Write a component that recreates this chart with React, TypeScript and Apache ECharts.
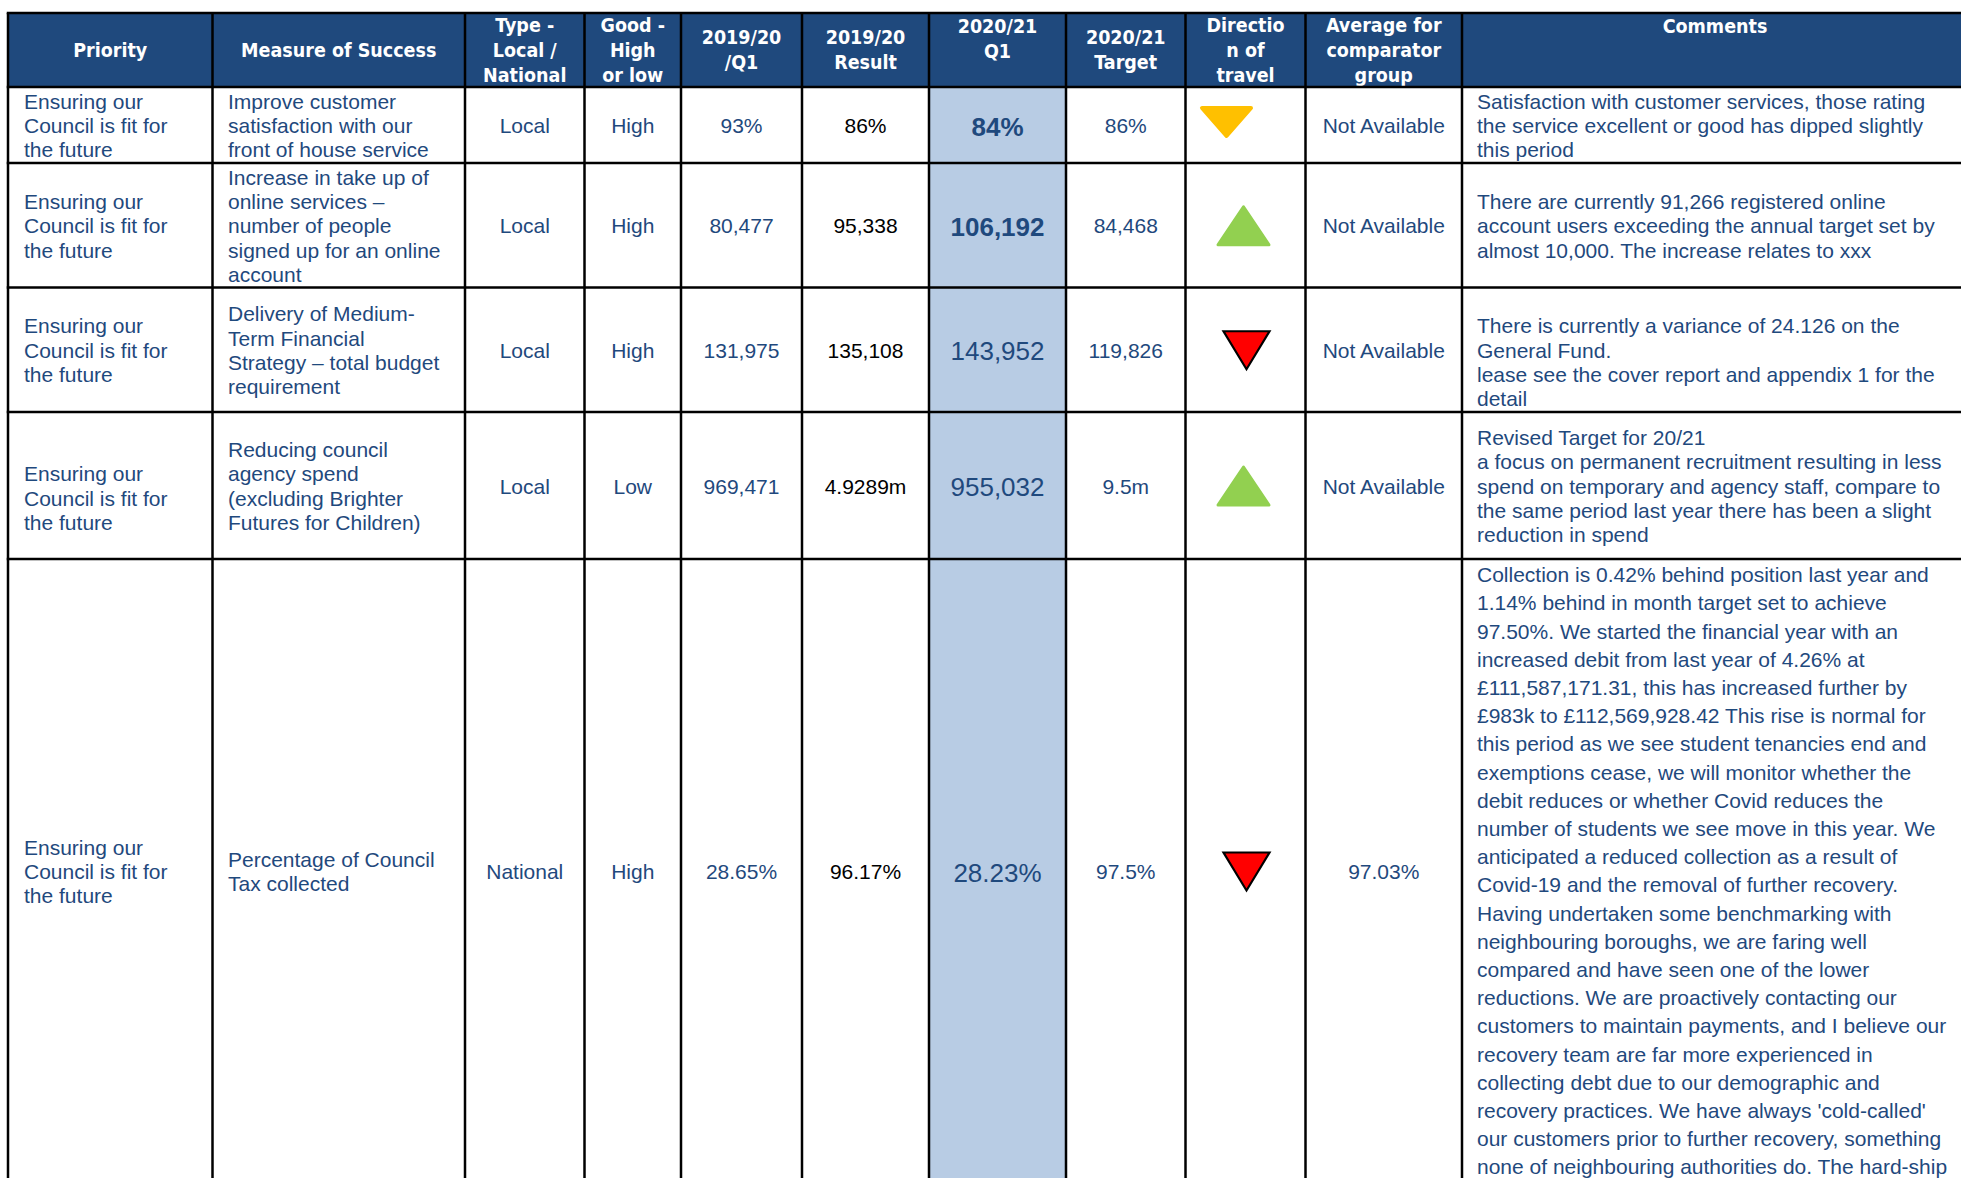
import React, { useEffect, useRef } from "react";
import * as echarts from "echarts";

// ---------------- DATA ----------------
const headers: string[][] = [
  ["Priority"],
  ["Measure of Success"],
  ["Type -", "Local /", "National"],
  ["Good -", "High", "or low"],
  ["2019/20", "/Q1"],
  ["2019/20", "Result"],
  ["2020/21", "Q1"],
  ["2020/21", "Target"],
  ["Directio", "n of", "travel"],
  ["Average for", "comparator", "group"],
  ["Comments"],
];

const priorities: string[][] = [
  ["Ensuring our", "Council is fit for", "the future"],
  ["Ensuring our", "Council is fit for", "the future"],
  ["Ensuring our", "Council is fit for", "the future"],
  ["", "Ensuring our", "Council is fit for", "the future"],
  ["Ensuring our", "Council is fit for", "the future"],
];

const measures: string[][] = [
  ["Improve customer", "satisfaction with our", "front of house service"],
  ["Increase in take up of", "online services –", "number of people", "signed up for an online", "account"],
  ["Delivery of Medium-", "Term Financial", "Strategy – total budget", "requirement"],
  ["Reducing council", "agency spend", "(excluding Brighter", "Futures for Children)"],
  ["Percentage of Council", "Tax collected"],
];

const types = ["Local", "Local", "Local", "Local", "National"];
const goodHighLow = ["High", "High", "High", "Low", "High"];
const q1_2019 = ["93%", "80,477", "131,975", "969,471", "28.65%"];
const result_2019 = ["86%", "95,338", "135,108", "4.9289m", "96.17%"];
const q1_2020 = ["84%", "106,192", "143,952", "955,032", "28.23%"];
const target_2021 = ["86%", "84,468", "119,826", "9.5m", "97.5%"];
const directions = ["down-amber", "up-green", "down-red", "up-green", "down-red"];
const comparator = ["Not Available", "Not Available", "Not Available", "Not Available", "97.03%"];

const comments: string[][] = [
  ["Satisfaction with customer services, those rating", "the service excellent or good has dipped slightly", "this period"],
  ["There are currently 91,266 registered online", "account users exceeding the annual target set by", "almost 10,000. The increase relates to xxx"],
  ["", "There is currently a variance of 24.126 on the", "General Fund.", "lease see the cover report and appendix 1 for the", "detail"],
  ["Revised Target for 20/21", "a focus on permanent recruitment resulting in less", "spend on temporary and agency staff, compare to", "the same period last year there has been a slight", "reduction in spend"],
  [
    "Collection is 0.42% behind position last year and",
    "1.14% behind in month target set to achieve",
    "97.50%. We started the financial year with an",
    "increased debit from last year of 4.26% at",
    "£111,587,171.31, this has increased further by",
    "£983k to £112,569,928.42 This rise is normal for",
    "this period as we see student tenancies end and",
    "exemptions cease, we will monitor whether the",
    "debit reduces or whether Covid reduces the",
    "number of students we see move in this year. We",
    "anticipated a reduced collection as a result of",
    "Covid-19 and the removal of further recovery.",
    "Having undertaken some benchmarking with",
    "neighbouring boroughs, we are faring well",
    "compared and have seen one of the lower",
    "reductions. We are proactively contacting our",
    "customers to maintain payments, and I believe our",
    "recovery team are far more experienced in",
    "collecting debt due to our demographic and",
    "recovery practices. We have always 'cold-called'",
    "our customers prior to further recovery, something",
    "none of neighbouring authorities do. The hard-ship",
  ],
];

// ---------------- LAYOUT / STYLE ----------------
const COL_X = [8, 212.5, 465, 584.5, 681, 802, 929, 1066, 1185.5, 1305.5, 1462, 1968];
const ROW_Y = [13, 87, 163, 287.5, 412, 559, 1183];
const HEADER_TOP_ALIGNED = [false, false, false, false, false, false, true, false, false, false, true];
const BLUE = "#1F497D";
const HEADER_BG = "#1F497D";
const Q1_BG = "#B8CCE4";
const BODY_FONT = '"Liberation Sans", Arial, sans-serif';
const HEAD_FONT = '"DejaVu Sans Condensed", "DejaVu Sans", sans-serif';
const LINE_W = 2.5;

function txt(text: string, x: number, y: number, opts: any) {
  const align = opts.align || "center";
  const valign = opts.valign || "middle";
  return {
    type: "text",
    silent: true,
    z: 10,
    style: {
      text,
      x,
      y,
      fill: opts.fill || BLUE,
      fontSize: opts.fontSize || 21,
      fontFamily: opts.fontFamily || BODY_FONT,
      fontWeight: opts.fontWeight || "normal",
      lineHeight: opts.lineHeight || 24.3,
      align,
      verticalAlign: valign,
      textAlign: align,
      textVerticalAlign: valign,
    },
  };
}

function triangle(kind: string, cx: number, cy: number) {
  if (kind === "down-amber") {
    const w = 49, h = 28, x = cx - 19, top = 108;
    return {
      type: "polygon", z: 10, silent: true,
      shape: { points: [[x - w / 2, top], [x + w / 2, top], [x, top + h]] },
      style: { fill: "#FFC000", stroke: "#FFC000", lineWidth: 4, lineJoin: "round" },
    };
  }
  if (kind === "up-green") {
    const w = 51, h = 38;
    const x = cx - 2;
    return {
      type: "polygon", z: 10, silent: true,
      shape: { points: [[x, cy - h / 2], [x + w / 2, cy + h / 2], [x - w / 2, cy + h / 2]] },
      style: { fill: "#92D050", stroke: "#92D050", lineWidth: 3, lineJoin: "round" },
    };
  }
  const w = 46, h = 38;
  const x = cx + 1;
  return {
    type: "polygon", z: 10, silent: true,
    shape: { points: [[x - w / 2, cy - h / 2], [x + w / 2, cy - h / 2], [x, cy + h / 2]] },
    style: { fill: "#FF0000", stroke: "#000000", lineWidth: 2.2, lineJoin: "miter" },
  };
}

function buildGraphics() {
  const els: any[] = [];
  const left = COL_X[0];
  const right = COL_X[COL_X.length - 1];
  const top = ROW_Y[0];
  const bottom = ROW_Y[ROW_Y.length - 1];
  const ncol = COL_X.length - 1;
  const nrow = ROW_Y.length - 2;

  // header background
  els.push({ type: "rect", silent: true, z: 1, shape: { x: left, y: top, width: right - left, height: ROW_Y[1] - top }, style: { fill: HEADER_BG } });
  // Q1 2020/21 highlight column
  els.push({ type: "rect", silent: true, z: 1, shape: { x: COL_X[6], y: ROW_Y[1], width: COL_X[7] - COL_X[6], height: bottom - ROW_Y[1] }, style: { fill: Q1_BG } });

  // header texts
  headers.forEach((lines, c) => {
    const cx = (COL_X[c] + COL_X[c + 1]) / 2;
    const topAligned = HEADER_TOP_ALIGNED[c];
    els.push(
      txt(lines.join("\n"), cx, topAligned ? top + 0.5 : (top + ROW_Y[1]) / 2, {
        fill: "#FFFFFF",
        fontFamily: HEAD_FONT,
        fontWeight: "bold",
        fontSize: 19.5,
        lineHeight: 25,
        valign: topAligned ? "top" : "middle",
      })
    );
  });

  for (let r = 0; r < nrow; r++) {
    const y0 = ROW_Y[r + 1];
    const y1 = ROW_Y[r + 2];
    const cy = (y0 + y1) / 2 + 0.5;
    const cxOf = (c: number) => (COL_X[c] + COL_X[c + 1]) / 2;
    els.push(txt(priorities[r].join("\n"), COL_X[0] + 16, cy, { align: "left" }));
    els.push(txt(measures[r].join("\n"), COL_X[1] + 15.5, cy, { align: "left" }));
    els.push(txt(types[r], cxOf(2), cy, {}));
    els.push(txt(goodHighLow[r], cxOf(3), cy, {}));
    els.push(txt(q1_2019[r], cxOf(4), cy, {}));
    els.push(txt(result_2019[r], cxOf(5), cy, { fill: "#000000" }));
    els.push(txt(q1_2020[r], cxOf(6), cy + 1, { fontSize: 26, fontWeight: r < 2 ? "bold" : "normal" }));
    els.push(txt(target_2021[r], cxOf(7), cy, {}));
    els.push(triangle(directions[r], cxOf(8), cy));
    els.push(txt(comparator[r], cxOf(9), cy, {}));
    const isLong = comments[r].length > 10;
    els.push(
      txt(comments[r].join("\n"), COL_X[10] + 15, isLong ? y0 + 1.5 : cy, {
        align: "left",
        valign: isLong ? "top" : "middle",
        lineHeight: isLong ? 28.2 : 24.3,
      })
    );
  }

  // grid lines
  ROW_Y.forEach((y) => {
    els.push({ type: "line", silent: true, z: 20, shape: { x1: left - LINE_W / 2, y1: y, x2: right, y2: y }, style: { stroke: "#000000", lineWidth: LINE_W } });
  });
  COL_X.forEach((x) => {
    els.push({ type: "line", silent: true, z: 20, shape: { x1: x, y1: top, x2: x, y2: bottom }, style: { stroke: "#000000", lineWidth: LINE_W } });
  });
  void ncol;
  return els;
}

export default function App() {
  const ref = useRef<HTMLDivElement>(null);
  useEffect(() => {
    if (!ref.current) return;
    const chart = echarts.init(ref.current, null, { renderer: "svg" });
    chart.setOption({
      animation: false,
      backgroundColor: "#FFFFFF",
      graphic: { elements: buildGraphics() },
    });
    return () => chart.dispose();
  }, []);
  return (
    <div
      ref={ref}
      style={{ position: "fixed", left: 0, top: 0, width: 1961, height: 1178, background: "#fff" }}
    />
  );
}
